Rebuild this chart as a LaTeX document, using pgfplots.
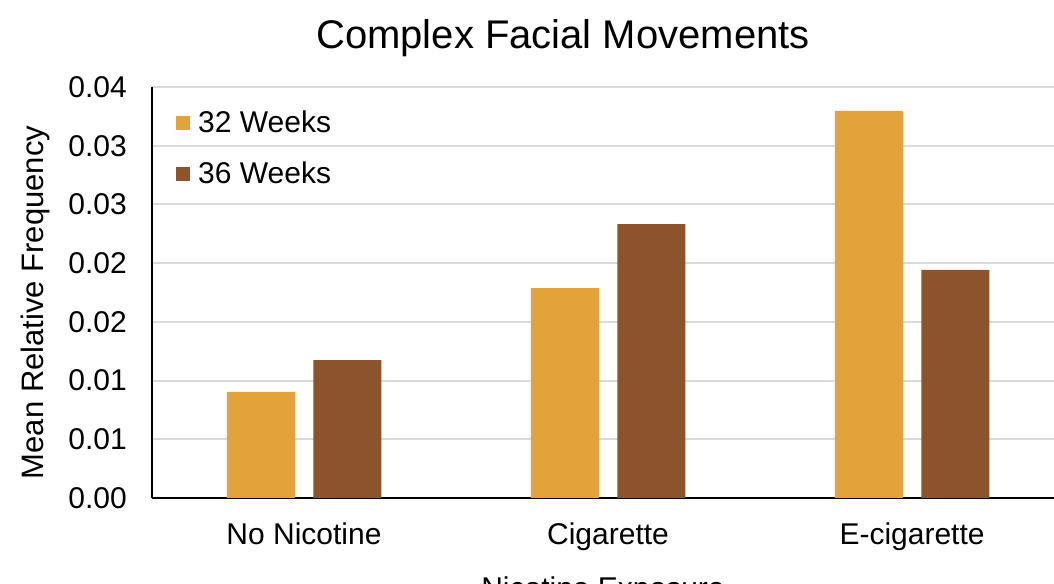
\documentclass[border=0pt]{standalone}
\usepackage{fontspec}
\setmainfont{Liberation Sans}
\usepackage{pgfplots}
\pgfplotsset{compat=1.18}

\definecolor{wk32}{HTML}{E2A43A}
\definecolor{wk36}{HTML}{8C532D}
\definecolor{gridgray}{HTML}{D9D9D9}

\newcommand{\tickfont}{\fontsize{30bp}{36bp}\selectfont}

\begin{document}
\begin{tikzpicture}
\useasboundingbox (0,0) rectangle (1054bp,584bp);
\begin{axis}[
    at={(152bp,86bp)}, anchor=south west,
    scale only axis,
    width=902bp, height=411bp,
    ybar=18.5bp, bar width=68bp,
    xmin=-0.5, xmax=2.467,
    ymin=0, ymax=0.035,
    axis x line*=bottom, axis y line*=left,
    axis line style={line width=2.2bp, black, -},
    major tick length=0pt,
    xtick={0,1,2},
    xticklabels={No Nicotine, Cigarette, E-cigarette},
    scaled y ticks=false,
    ytick={0,0.005,0.01,0.015,0.02,0.025,0.03,0.035},
    yticklabels={0.00,0.01,0.01,0.02,0.02,0.03,0.03,0.04},
    /pgf/number format/assume math mode=true,
    ticklabel style={font=\tickfont, inner sep=0pt},
    xticklabel style={anchor=base, yshift=-46bp},
    yticklabel style={anchor=east, xshift=-25bp},
    ymajorgrids,
    grid style={gridgray, line width=2bp},
    title={Complex Facial Movements},
    title style={at={(axis description cs:0.4557,1.0803)}, anchor=base,
        font=\fontsize{40bp}{48bp}\selectfont, inner sep=0pt},
    ylabel={Mean Relative Frequency},
    ylabel style={at={(axis description cs:-0.1208,0.4757)}, anchor=base,
        rotate=0, font=\fontsize{31bp}{37bp}\selectfont, inner sep=0pt},
    xlabel={Nicotine Exposure},
    xlabel style={at={(axis description cs:0.5,-0.2440)}, anchor=base,
        font=\tickfont, inner sep=0pt},
    legend image code/.code={\fill[#1,/tikz/.cd] (0bp,-8bp) rectangle (14bp,6bp);},
    legend style={at={(axis description cs:0.0266,0.9416)}, anchor=north west,
        draw=none, fill=none, inner sep=0pt, row sep=30bp,
        font=\tickfont,
        nodes={inner sep=0pt, text height=21bp, text depth=0bp},
        cells={anchor=west}},
]
\addplot[fill=wk32, draw=none] coordinates {(0,0.00903) (1,0.01788) (2,0.03296)};
\addlegendentry{\hspace{8bp}32 Weeks}
\addplot[fill=wk36, draw=none] coordinates {(0,0.01175) (1,0.02333) (2,0.01942)};
\addlegendentry{\hspace{8bp}36 Weeks}
\end{axis}
\end{tikzpicture}
\end{document}
